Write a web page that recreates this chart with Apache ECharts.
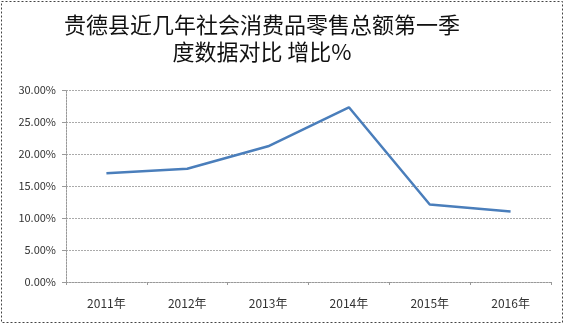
<!DOCTYPE html>
<html>
<head>
<meta charset="utf-8">
<script src="https://cdn.jsdelivr.net/npm/echarts@6/dist/echarts.min.js"></script>
<style>
html,body{margin:0;padding:0;background:#fff;}
#c{width:565px;height:327px;}
</style>
</head>
<body>
<div id="c"></div>
<script>
var titleText = '贵德县近几年社会消费品零售总额第一季\n度数据对比 增比%';
var categories = ['2011年','2012年','2013年','2014年','2015年','2016年'];
var values = [0.170, 0.177, 0.212, 0.273, 0.121, 0.110];
var yTicks = [0, 0.05, 0.10, 0.15, 0.20, 0.25, 0.30];

var chart = echarts.init(document.getElementById('c'), null, {renderer:'canvas'});
chart.setOption({
  animation:false,
  backgroundColor:'#fff',
  title:{
    text:titleText,
    left:257,
    textAlign:'center',
    top:6,
    textStyle:{fontFamily:'Noto Sans CJK SC',fontSize:22,fontWeight:'normal',color:'#111',lineHeight:27}
  },
  graphic:[{
    type:'rect',
    shape:{x:1.5,y:1.5,width:561,height:321},
    style:{fill:null,stroke:'#444',lineWidth:1,lineDash:[2,2]},
    silent:true
  }],
  grid:{left:66,right:14,top:90,bottom:45},
  xAxis:{
    type:'category',
    data:categories,
    boundaryGap:true,
    axisLine:{lineStyle:{color:'#999',type:[2,1]}},
    axisTick:{show:true,length:3,lineStyle:{color:'#999'}},
    axisLabel:{fontFamily:'Noto Sans CJK SC',fontSize:12,color:'#333',margin:15}
  },
  yAxis:{
    type:'value',
    min:yTicks[0],
    max:yTicks[yTicks.length-1],
    interval:0.05,
    axisLine:{show:true,lineStyle:{color:'#999',type:[2,1]}},
    axisTick:{show:true,length:4,lineStyle:{color:'#999'}},
    splitLine:{lineStyle:{color:'#aaa',type:[2,1]}},
    axisLabel:{fontFamily:'Noto Sans CJK SC',fontSize:11,color:'#333',margin:10,
      formatter:function(v){return (v*100).toFixed(2)+'%';}}
  },
  series:[{
    type:'line',
    data:values,
    symbol:'none',
    lineStyle:{color:'#4a7ebb',width:2.5},
    itemStyle:{color:'#4a7ebb'}
  }]
});
</script>
</body>
</html>
